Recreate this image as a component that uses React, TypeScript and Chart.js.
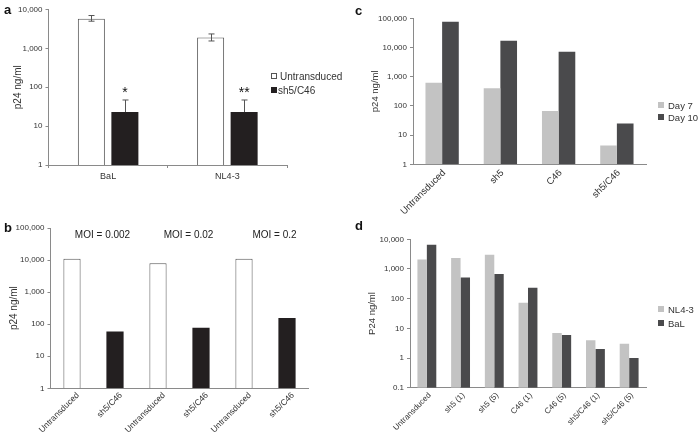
import React, { useEffect, useRef } from 'react';
import { Chart, registerables } from 'chart.js';
Chart.register(...registerables);

const FONT = 'Arial, "Liberation Sans", Helvetica, sans-serif';
const AXIS = '#8a8a8a';
const TEXT = '#333333';
const BLACK = '#231f20';
const LIGHT = '#c3c3c3';
const DARK = '#4a4a4c';

// ---------- Panel a ----------
const aCategories = ['BaL', 'NL4-3'];
const aUntransduced = [5800, 1900];
const aUntransducedLow = [5000, 1550];
const aUntransducedHigh = [7000, 2350];
const aSh5C46 = [23, 23];
const aSh5C46High = [47, 47];
const aSignificance = ['*', '**'];
const aTicks = [1, 10, 100, 1000, 10000];

// ---------- Panel b ----------
const bCategories = ['Untransduced', 'sh5/C46', 'Untransduced', 'sh5/C46', 'Untransduced', 'sh5/C46'];
const bValues = [11000, 59, 8000, 78, 11000, 155];
const bMoiLabels = ['MOI = 0.002', 'MOI = 0.02', 'MOI = 0.2'];
const bTicks = [1, 10, 100, 1000, 10000, 100000];

// ---------- Panel c ----------
const cCategories = ['Untransduced', 'sh5', 'C46', 'sh5/C46'];
const cDay7 = [620, 400, 67, 4.4];
const cDay10 = [76000, 17000, 7100, 25];
const cTicks = [1, 10, 100, 1000, 10000, 100000];

// ---------- Panel d ----------
const dCategories = ['Untransduced', 'sh5 (1)', 'sh5 (5)', 'C46 (1)', 'C46 (5)', 'sh5/C46 (1)', 'sh5/C46 (5)'];
const dNL43 = [2100, 2350, 3000, 73, 7, 4, 3];
const dBaL = [6500, 520, 680, 235, 6, 2, 1];
const dTicks = [0.1, 1, 10, 100, 1000, 10000];

type Area = { left: number; top: number; right: number; bottom: number };
const W = 700;
const H = 439;

function fmt(v: number) {
  return Number(v).toLocaleString('en-US', { maximumFractionDigits: 2 });
}

function buildConfig(p: {
  labels: string[];
  datasets: any[];
  ticks: number[];
  area: Area;
  yTitle: string;
  titleX: number;
  titleSize: number;
  xFont: number;
  rotate: number;
  xTickLen: number;
  xPad: number;
  xHeight: number;
  xLabelOffset: number;
  plugins?: any[];
}): any {
  const padLeft = p.titleX - 0.6 * p.titleSize;
  return {
    type: 'bar',
    data: { labels: p.labels, datasets: p.datasets },
    options: {
      responsive: false,
      animation: false,
      devicePixelRatio: 1,
      layout: {
        padding: {
          left: padLeft,
          top: p.area.top,
          right: W - p.area.right,
          bottom: H - p.area.bottom - p.xHeight,
        },
      },
      plugins: { legend: { display: false }, tooltip: { enabled: false }, title: { display: false } },
      scales: {
        x: {
          type: 'category',
          position: 'bottom',
          offset: true,
          afterFit: (s: any) => {
            s.height = p.xHeight;
          },
          ticks: {
            font: { family: FONT, size: p.xFont },
            color: TEXT,
            autoSkip: false,
            maxRotation: p.rotate,
            minRotation: p.rotate,
            padding: p.xPad,
            labelOffset: p.xLabelOffset,
          },
          grid: {
            display: true,
            drawOnChartArea: false,
            drawTicks: p.xTickLen > 0,
            tickLength: p.xTickLen,
            color: AXIS,
            offset: true,
          },
          border: { display: true, color: AXIS, width: 1 },
        },
        y: {
          type: 'logarithmic',
          position: 'left',
          min: p.ticks[0],
          max: p.ticks[p.ticks.length - 1],
          afterBuildTicks: (s: any) => {
            s.ticks = p.ticks.map((v) => ({ value: v }));
          },
          afterFit: (s: any) => {
            s.width = p.area.left - padLeft;
          },
          ticks: {
            font: { family: FONT, size: 8 },
            color: TEXT,
            padding: 3,
            autoSkip: false,
            callback: (v: any) => fmt(v),
          },
          grid: { display: true, drawOnChartArea: false, drawTicks: true, tickLength: 3, color: AXIS },
          border: { display: true, color: AXIS, width: 1 },
          title: {
            display: true,
            text: p.yTitle,
            font: { family: FONT, size: p.titleSize },
            color: TEXT,
            padding: 0,
          },
        },
      },
    },
    plugins: p.plugins || [],
  };
}

const errorBarsA = {
  id: 'errorBarsA',
  afterDatasetsDraw(chart: any) {
    const ctx = chart.ctx;
    const y = chart.scales.y;
    const m0 = chart.getDatasetMeta(0);
    const m1 = chart.getDatasetMeta(1);
    ctx.save();
    ctx.strokeStyle = '#555';
    ctx.lineWidth = 1;
    const cap = 3;
    aCategories.forEach((_, i) => {
      const x0 = Math.round(m0.data[i].x) + 0.5;
      const hi = y.getPixelForValue(aUntransducedHigh[i]);
      const lo = y.getPixelForValue(aUntransducedLow[i]);
      ctx.beginPath();
      ctx.moveTo(x0, hi);
      ctx.lineTo(x0, lo);
      ctx.moveTo(x0 - cap, hi);
      ctx.lineTo(x0 + cap, hi);
      ctx.moveTo(x0 - cap, lo);
      ctx.lineTo(x0 + cap, lo);
      ctx.stroke();

      const x1 = Math.round(m1.data[i].x) + 0.5;
      const hi1 = y.getPixelForValue(aSh5C46High[i]);
      const top1 = y.getPixelForValue(aSh5C46[i]);
      ctx.beginPath();
      ctx.moveTo(x1, hi1);
      ctx.lineTo(x1, top1);
      ctx.moveTo(x1 - cap, hi1);
      ctx.lineTo(x1 + cap, hi1);
      ctx.stroke();

      ctx.fillStyle = '#111';
      ctx.font = `14px ${FONT}`;
      ctx.textAlign = 'center';
      ctx.textBaseline = 'alphabetic';
      ctx.fillText(aSignificance[i], m1.data[i].x, hi1 - 3);
    });
    ctx.restore();
  },
};

const moiLabelsB = {
  id: 'moiLabelsB',
  afterDatasetsDraw(chart: any) {
    const ctx = chart.ctx;
    const m = chart.getDatasetMeta(0);
    ctx.save();
    ctx.fillStyle = '#222';
    ctx.font = `10px ${FONT}`;
    ctx.textAlign = 'center';
    ctx.textBaseline = 'middle';
    bMoiLabels.forEach((t, i) => {
      const x = (m.data[2 * i].x + m.data[2 * i + 1].x) / 2 + 9;
      ctx.fillText(t, x, chart.chartArea.top + 7);
    });
    ctx.restore();
  },
};

const areaA: Area = { left: 48.5, top: 9.5, right: 287, bottom: 165 };
const areaB: Area = { left: 50.5, top: 228, right: 308.5, bottom: 388.3 };
const areaC: Area = { left: 413, top: 18.3, right: 646, bottom: 164.3 };
const areaD: Area = { left: 410, top: 239.3, right: 646, bottom: 387.7 };

function configA() {
  return buildConfig({
    labels: aCategories,
    datasets: [
      {
        label: 'Untransduced',
        data: aUntransduced,
        backgroundColor: '#ffffff',
        borderColor: '#555555',
        borderWidth: 1,
        categoryPercentage: 0.562,
        barPercentage: 0.806,
      },
      {
        label: 'sh5/C46',
        data: aSh5C46,
        backgroundColor: BLACK,
        borderWidth: 0,
        categoryPercentage: 0.562,
        barPercentage: 0.806,
      },
    ],
    ticks: aTicks,
    area: areaA,
    yTitle: 'p24 ng/ml',
    titleX: 18,
    titleSize: 10,
    xFont: 9,
    rotate: 0,
    xTickLen: 3,
    xPad: 3,
    xHeight: 25,
    xLabelOffset: 0,
    plugins: [errorBarsA],
  });
}

function configB() {
  return buildConfig({
    labels: bCategories,
    datasets: [
      {
        label: 'p24',
        data: bValues,
        backgroundColor: bCategories.map((c) => (c === 'Untransduced' ? '#ffffff' : BLACK)),
        borderColor: bCategories.map((c) => (c === 'Untransduced' ? '#555555' : BLACK)),
        borderWidth: bCategories.map((c) => (c === 'Untransduced' ? 1 : 0)),
        categoryPercentage: 1,
        barPercentage: 0.4,
      },
    ],
    ticks: bTicks,
    area: areaB,
    yTitle: 'p24 ng/ml',
    titleX: 14,
    titleSize: 10,
    xFont: 8.5,
    rotate: 45,
    xTickLen: 0,
    xPad: 2,
    xHeight: 45,
    xLabelOffset: 6,
    plugins: [moiLabelsB],
  });
}

function configC() {
  return buildConfig({
    labels: cCategories,
    datasets: [
      { label: 'Day 7', data: cDay7, backgroundColor: LIGHT, borderWidth: 0, categoryPercentage: 0.572, barPercentage: 1 },
      { label: 'Day 10', data: cDay10, backgroundColor: DARK, borderWidth: 0, categoryPercentage: 0.572, barPercentage: 1 },
    ],
    ticks: cTicks,
    area: areaC,
    yTitle: 'p24 ng/ml',
    titleX: 375,
    titleSize: 9.5,
    xFont: 9.5,
    rotate: 45,
    xTickLen: 0,
    xPad: 3,
    xHeight: 50,
    xLabelOffset: 2,
  });
}

function configD() {
  return buildConfig({
    labels: dCategories,
    datasets: [
      { label: 'NL4-3', data: dNL43, backgroundColor: LIGHT, borderWidth: 0, categoryPercentage: 0.56, barPercentage: 1 },
      { label: 'BaL', data: dBaL, backgroundColor: DARK, borderWidth: 0, categoryPercentage: 0.56, barPercentage: 1 },
    ],
    ticks: dTicks,
    area: areaD,
    yTitle: 'P24 ng/ml',
    titleX: 372,
    titleSize: 9.5,
    xFont: 8,
    rotate: 45,
    xTickLen: 0,
    xPad: 3,
    xHeight: 45,
    xLabelOffset: 3,
  });
}

const canvasStyle: React.CSSProperties = {
  position: 'absolute',
  left: 0,
  top: 0,
  width: W,
  height: H,
  pointerEvents: 'none',
};

function Letter({ x, y, t }: { x: number; y: number; t: string }) {
  return (
    <div
      style={{
        position: 'absolute',
        left: x,
        top: y - 8,
        height: 16,
        lineHeight: '16px',
        fontSize: 13,
        fontWeight: 'bold',
        color: '#111',
        fontFamily: FONT,
      }}
    >
      {t}
    </div>
  );
}

function LegendItem({
  x,
  y,
  label,
  fill,
  border,
  size,
  gap,
  fontSize,
}: {
  x: number;
  y: number;
  label: string;
  fill: string;
  border?: string;
  size: number;
  gap: number;
  fontSize: number;
}) {
  return (
    <div
      style={{
        position: 'absolute',
        left: x,
        top: y - 7,
        height: 14,
        display: 'flex',
        alignItems: 'center',
        fontFamily: FONT,
        fontSize,
        color: TEXT,
        whiteSpace: 'nowrap',
      }}
    >
      <span
        style={{
          display: 'inline-block',
          width: size,
          height: size,
          boxSizing: 'border-box',
          background: fill,
          border: border ? `1px solid ${border}` : 'none',
          marginRight: gap,
        }}
      />
      <span>{label}</span>
    </div>
  );
}

export default function App() {
  const refA = useRef<HTMLCanvasElement>(null);
  const refB = useRef<HTMLCanvasElement>(null);
  const refC = useRef<HTMLCanvasElement>(null);
  const refD = useRef<HTMLCanvasElement>(null);

  useEffect(() => {
    const charts = [
      new Chart(refA.current as HTMLCanvasElement, configA()),
      new Chart(refB.current as HTMLCanvasElement, configB()),
      new Chart(refC.current as HTMLCanvasElement, configC()),
      new Chart(refD.current as HTMLCanvasElement, configD()),
    ];
    return () => charts.forEach((c) => c.destroy());
  }, []);

  return (
    <div
      style={{
        position: 'absolute',
        left: 0,
        top: 0,
        width: W,
        height: H,
        background: '#ffffff',
        overflow: 'hidden',
      }}
    >
      <canvas ref={refA} width={W} height={H} style={canvasStyle} />
      <canvas ref={refB} width={W} height={H} style={canvasStyle} />
      <canvas ref={refC} width={W} height={H} style={canvasStyle} />
      <canvas ref={refD} width={W} height={H} style={canvasStyle} />

      <Letter x={4} y={10} t="a" />
      <Letter x={4} y={228} t="b" />
      <Letter x={355} y={11} t="c" />
      <Letter x={355} y={226} t="d" />

      <LegendItem x={271} y={76} label="Untransduced" fill="#ffffff" border="#555555" size={6} gap={3} fontSize={10} />
      <LegendItem x={271} y={90} label="sh5/C46" fill={BLACK} size={6} gap={1} fontSize={10} />

      <LegendItem x={658} y={105} label="Day 7" fill={LIGHT} size={6} gap={4} fontSize={9.5} />
      <LegendItem x={658} y={117} label="Day 10" fill={DARK} size={6} gap={4} fontSize={9.5} />

      <LegendItem x={658} y={309} label="NL4-3" fill={LIGHT} size={6} gap={4} fontSize={9.5} />
      <LegendItem x={658} y={323} label="BaL" fill={DARK} size={6} gap={4} fontSize={9.5} />
    </div>
  );
}
